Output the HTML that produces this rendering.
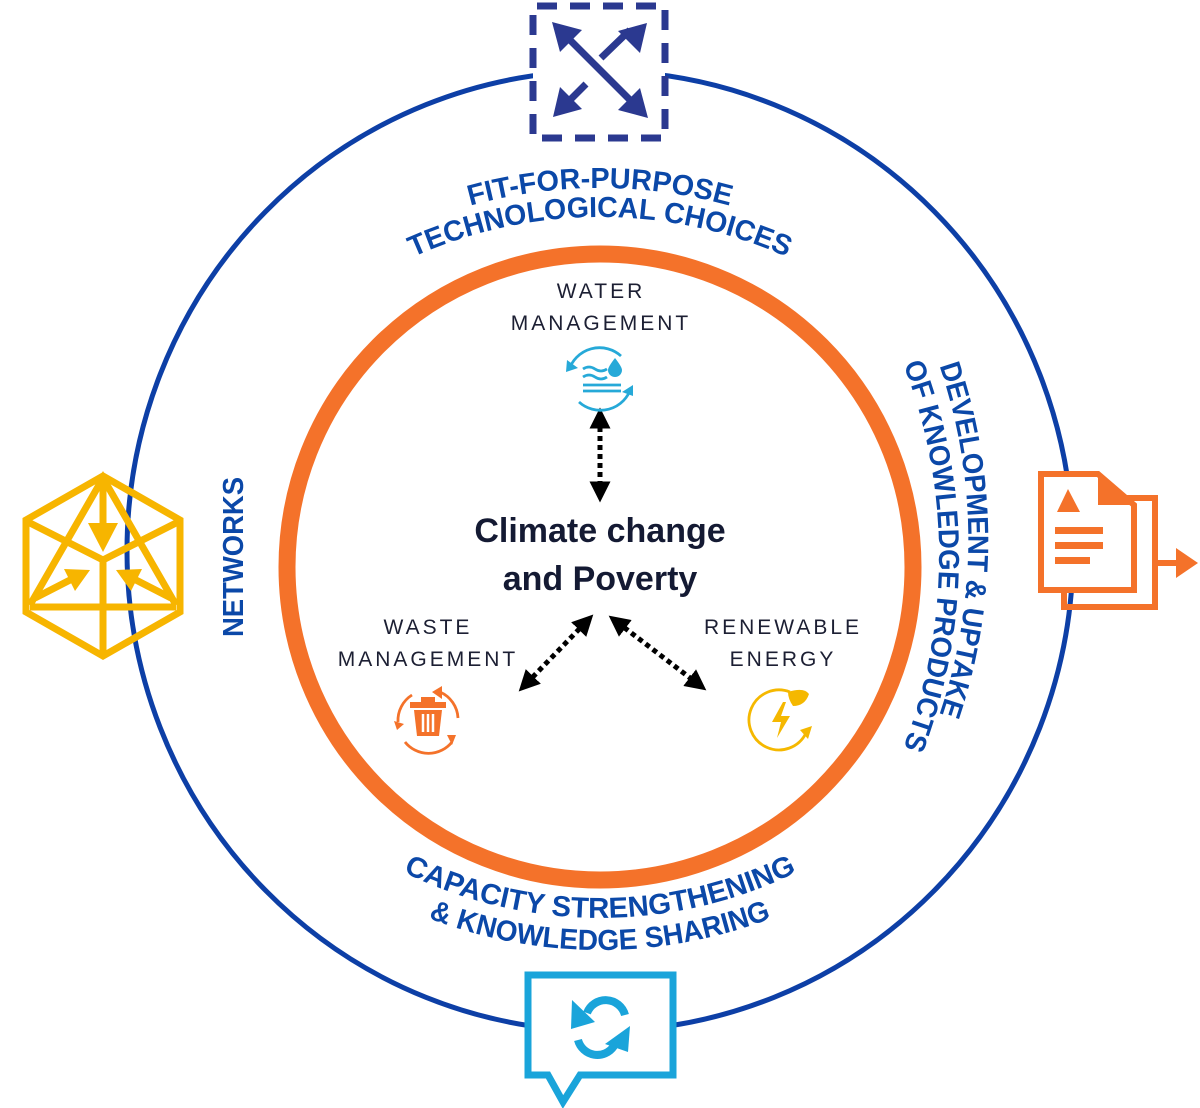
<!DOCTYPE html>
<html><head><meta charset="utf-8"><style>
html,body{margin:0;padding:0;background:#fff;}
svg{display:block;}
.b{font-family:"Liberation Sans",sans-serif;font-weight:bold;fill:#0b48a8;font-size:29px;}
.l{font-family:"Liberation Sans",sans-serif;fill:#1c1f33;font-size:21px;letter-spacing:3px;}
.c{font-family:"Liberation Sans",sans-serif;font-weight:bold;fill:#141a33;font-size:34px;}
</style></head><body>
<svg width="1200" height="1108" viewBox="0 0 1200 1108" xmlns="http://www.w3.org/2000/svg">
<defs>
<path id="t2" d="M 144 673 A 456 456 0 0 1 1056 673"/>
<path id="t1" d="M 115 673 A 485 485 0 0 1 1085 673"/>
<path id="b1" d="M 155 473 A 445 445 0 0 0 1045 473"/>
<path id="b2" d="M 123 473 A 477 477 0 0 0 1077 473"/>
<path id="r1" d="M 930 340 A 542 542 0 0 1 930 740"/>
<path id="r2" d="M 900 356 A 532 532 0 0 1 900 756"/>
<marker id="ah" viewBox="0 0 10 10" refX="5" refY="5" markerWidth="4.2" markerHeight="4.2" orient="auto-start-reverse"><path d="M0,0 L10,5 L0,10 z" fill="#000"/></marker>
</defs>
<ellipse cx="600" cy="551" rx="473" ry="480" fill="none" stroke="#0d3fa6" stroke-width="5"/>
<circle cx="600" cy="567" r="313" fill="none" stroke="#f4722a" stroke-width="17"/>

<text class="b"><textPath href="#t1" startOffset="50%" text-anchor="middle" textLength="263" lengthAdjust="spacingAndGlyphs">FIT-FOR-PURPOSE</textPath></text>
<text class="b"><textPath href="#t2" startOffset="50%" text-anchor="middle" textLength="385" lengthAdjust="spacingAndGlyphs">TECHNOLOGICAL CHOICES</textPath></text>
<text class="b"><textPath href="#b1" startOffset="50%" text-anchor="middle" textLength="408" lengthAdjust="spacingAndGlyphs">CAPACITY STRENGTHENING</textPath></text>
<text class="b"><textPath href="#b2" startOffset="50%" text-anchor="middle" textLength="351" lengthAdjust="spacingAndGlyphs">&amp; KNOWLEDGE SHARING</textPath></text>
<text class="b"><textPath href="#r1" startOffset="50%" text-anchor="middle" textLength="355" lengthAdjust="spacingAndGlyphs">DEVELOPMENT &amp; UPTAKE</textPath></text>
<text class="b"><textPath href="#r2" startOffset="50%" text-anchor="middle" textLength="392" lengthAdjust="spacingAndGlyphs">OF KNOWLEDGE PRODUCTS</textPath></text>
<text class="b" transform="translate(243,557) rotate(-90)" text-anchor="middle" textLength="160" lengthAdjust="spacingAndGlyphs">NETWORKS</text>

<rect x="533" y="6" width="132" height="132" fill="#fff" stroke="#2b3990" stroke-width="7" stroke-dasharray="20 13" stroke-dashoffset="-4"/>
<g stroke="#2b3990" stroke-width="7" fill="#2b3990">
<line x1="566" y1="36" x2="634" y2="104"/>
<line x1="601" y1="58" x2="630" y2="30"/>
<line x1="586" y1="84" x2="565" y2="105"/>
</g>
<g fill="#2b3990">
<polygon points="552,22 582,30 560,52"/>
<polygon points="648,118 618,110 640,88"/>
<polygon points="647,23 640,53 618,31"/>
<polygon points="553,117 560,87 582,109"/>
</g>

<g fill="none" stroke="#f7b500" stroke-width="7" stroke-linejoin="miter">
<polygon points="103,476 180,520 180,612 103,656 26,612 26,520"/>
<polyline points="30,605 103,478 176,605"/>
<line x1="30" y1="607" x2="176" y2="607"/>
<polyline points="28,522 103,560 178,522"/>
<line x1="103" y1="560" x2="103" y2="654"/>
<line x1="103" y1="482" x2="103" y2="525"/>
<line x1="35" y1="598" x2="72" y2="579"/>
<line x1="171" y1="598" x2="134" y2="579"/>
</g>
<g fill="#f7b500">
<polygon points="88,523 118,523 103,552"/>
<polygon points="90,570 75,591 64,569"/>
<polygon points="116,570 131,591 142,569"/>
</g>

<g fill="none" stroke="#f4722a" stroke-width="6">
<path d="M1064 493 H1098 L1103 498 H1155 V607 H1064 Z"/>
</g>
<path d="M1041 474 H1098 L1134 505 V590 H1041 Z" fill="#fff" stroke="#f4722a" stroke-width="6"/>
<path d="M1098 474 V505 H1134 Z" fill="#f4722a"/>
<polygon points="1057,512 1068,489 1080,512" fill="#f4722a"/>
<rect x="1055" y="527" width="48" height="7" fill="#f4722a"/>
<rect x="1055" y="542" width="48" height="7" fill="#f4722a"/>
<rect x="1055" y="557" width="35" height="7" fill="#f4722a"/>
<line x1="1158" y1="563" x2="1180" y2="563" stroke="#f4722a" stroke-width="6"/>
<polygon points="1176,548 1198,563 1176,578" fill="#f4722a"/>

<path d="M528 975 H673 V1075 H580 L563 1102 L548 1075 H528 Z" fill="#fff" stroke="#1aa4da" stroke-width="7"/>
<g fill="none" stroke="#1aa4da" stroke-width="8">
<path d="M587 1013 A 20 20 0 0 1 625 1015"/>
<path d="M614 1046 A 20 20 0 0 1 578 1040"/>
</g>
<polygon points="572,1000 595,1022 571,1029" fill="#1aa4da"/>
<polygon points="630,1026 628,1052 605,1044" fill="#1aa4da"/>

<text class="c" x="600" y="542" text-anchor="middle">Climate change</text>
<text class="c" x="600" y="590" text-anchor="middle">and Poverty</text>
<text class="l" x="601" y="298" text-anchor="middle">WATER</text>
<text class="l" x="601" y="330" text-anchor="middle">MANAGEMENT</text>
<text class="l" x="428" y="634" text-anchor="middle">WASTE</text>
<text class="l" x="428" y="666" text-anchor="middle">MANAGEMENT</text>
<text class="l" x="783" y="634" text-anchor="middle">RENEWABLE</text>
<text class="l" x="783" y="666" text-anchor="middle">ENERGY</text>

<g stroke="#000" stroke-width="5" stroke-dasharray="5 4" fill="none" marker-start="url(#ah)" marker-end="url(#ah)">
<line x1="600" y1="418" x2="600" y2="492"/>
<line x1="586" y1="622" x2="526" y2="684"/>
<line x1="617" y1="622" x2="698" y2="684"/>
</g>

<g stroke="#26a9d8" stroke-width="2.8" fill="none">
<path d="M569 370 A 32 32 0 0 1 621 356"/>
<path d="M631 388 A 32 32 0 0 1 579 402"/>
<path d="M583 369 q6 -4 12 0 t12 0"/>
<path d="M583 377 q6 -4 12 0 t12 0"/>
<line x1="583" y1="385" x2="621" y2="385"/>
<line x1="583" y1="391" x2="621" y2="391"/>
</g>
<path d="M615 358 q-7 9 -7 12 a7 7 0 0 0 14 0 q0 -3 -7 -12z" fill="#26a9d8"/>
<polygon points="567,360 578,368 566,372" fill="#26a9d8"/>
<polygon points="633,396 622,392 633,385" fill="#26a9d8"/>

<g stroke="#f4722a" stroke-width="2.8" fill="none">
<path d="M440 692 A 30 30 0 0 1 458 718"/>
<path d="M452 742 A 30 30 0 0 1 405 742"/>
<path d="M398 722 A 30 30 0 0 1 412 695"/>
</g>
<polygon points="432,692 442,686 442,699" fill="#f4722a"/>
<polygon points="452,745 456,735 447,735" fill="#f4722a"/>
<polygon points="397,730 404,724 394,721" fill="#f4722a"/>
<rect x="410" y="702" width="36" height="6" fill="#f4722a"/>
<rect x="421" y="697" width="14" height="6" fill="#f4722a"/>
<path d="M414 710 H442 L439 736 H417 Z" fill="#f4722a"/>
<g stroke="#fff" stroke-width="2.5"><line x1="423" y1="714" x2="423" y2="732"/><line x1="428" y1="714" x2="428" y2="732"/><line x1="433" y1="714" x2="433" y2="732"/></g>

<g stroke="#f5b800" stroke-width="2.8" fill="none">
<path d="M790 692 A 30 30 0 1 0 806 733"/>
</g>
<path d="M788 692 q16 -5 21 2 q-4 12 -16 12 q-5 -7 -5 -14z" fill="#f5b800"/>
<polygon points="800,730 812,726 808,739" fill="#f5b800"/>
<polygon points="783,702 772,722 781,722 777,738 790,716 781,716 786,702" fill="#f5b800"/>
</svg>
</body></html>
